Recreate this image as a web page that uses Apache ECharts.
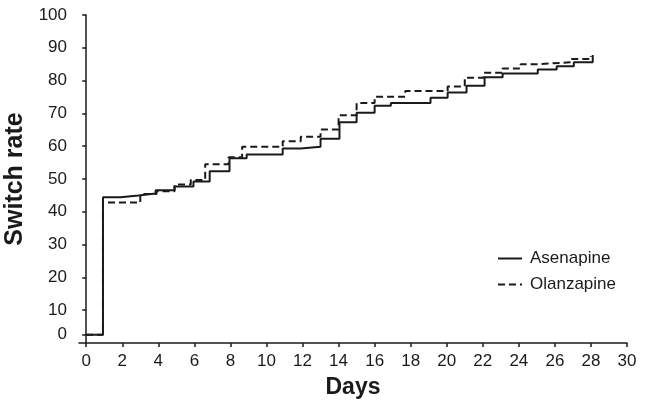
<!DOCTYPE html>
<html>
<head>
<meta charset="utf-8">
<script src="https://cdn.jsdelivr.net/npm/echarts@6/dist/echarts.min.js"></script>
<style>
  html, body { margin: 0; padding: 0; background: #fff; }
  #chart { width: 651px; height: 410px; }
</style>
</head>
<body>
<div id="chart"></div>
<script>
// Step data: [day, switch rate]
const asenapine = [
  [0, 0], [0.93, 44.4], [1.9, 45.0], [2.9, 45.6], [3.85, 46.6], [4.9, 47.7],
  [5.95, 49.2], [6.85, 52.4], [7.95, 56.3], [8.9, 57.5], [10.9, 59.3],
  [11.9, 59.8], [13.0, 62.3], [14.05, 67.3], [15.0, 70.2], [16.0, 72.3],
  [16.9, 73.2], [19.1, 74.8], [20.05, 76.4], [21.1, 78.4], [22.1, 81.0],
  [23.1, 82.2], [25.05, 83.4], [26.1, 84.4], [27.05, 85.6], [28.1, 87.8]
]
const olanzapine = [
  [0, 0], [0.93, 42.8], [3.0, 45.4], [3.9, 46.3], [4.9, 48.3], [5.8, 49.7],
  [6.6, 54.5], [7.9, 56.6], [8.65, 59.8], [10.9, 61.5], [11.9, 62.9],
  [13.0, 65.1], [14.0, 69.4], [15.0, 73.2], [16.0, 75.1], [17.7, 76.8],
  [20.05, 78.2], [21.0, 80.9], [22.05, 82.4], [23.1, 83.7], [24.1, 85.0],
  [25.05, 85.6], [26.9, 86.6], [28.0, 87.5]
]
const xTicks = [0, 2, 4, 6, 8, 10, 12, 14, 16, 18, 20, 22, 24, 26, 28, 30]
const yTicks = [0, 10, 20, 30, 40, 50, 60, 70, 80, 90, 100]

// the figure squeezes 0..10 on the y axis: "0" sits a bit above the x axis
const ZERO_AT = 2.5
const yPos = v => v < 10 ? ZERO_AT + v * (10 - ZERO_AT) / 10 : v
const toPlot = arr => arr.map(([d, v]) => [d, yPos(v)])

const font = '"Liberation Sans", Arial, sans-serif'
const ink = '#1a1a1a'

const chart = echarts.init(document.getElementById('chart'))
chart.setOption({
  animation: false,
  textStyle: { fontFamily: font },
  grid: { left: 79, right: 24, top: 15, bottom: 67, outerBoundsMode: 'none' },
  legend: {
    orient: 'vertical',
    left: 492,
    top: 245,
    itemWidth: 24,
    itemHeight: 10,
    itemGap: 9,
    data: ['Asenapine', 'Olanzapine'],
    itemStyle: { opacity: 0 },
    textStyle: { fontSize: 17, color: ink, fontFamily: font, padding: [0, 0, 0, 3] }
  },
  xAxis: {
    type: 'value',
    min: -0.4,
    max: 30,
    name: 'Days',
    nameLocation: 'middle',
    nameGap: 33,
    nameTextStyle: { fontSize: 23, fontWeight: 'bold', color: ink, fontFamily: font },
    axisLine: { show: true, lineStyle: { color: ink, width: 1.5 } },
    axisTick: { show: true, length: 4, lineStyle: { color: ink, width: 1.5 }, customValues: xTicks },
    axisLabel: { fontSize: 17, color: ink, margin: 10, customValues: xTicks },
    splitLine: { show: false }
  },
  yAxis: {
    type: 'value',
    min: 0,
    max: 100,
    name: 'Switch rate',
    nameLocation: 'middle',
    nameGap: 47,
    nameTextStyle: { fontSize: 25, fontWeight: 'bold', color: ink, fontFamily: font },
    axisLine: { show: true, lineStyle: { color: ink, width: 1.5 } },
    axisTick: { show: true, length: 4, lineStyle: { color: ink, width: 1.5 }, customValues: yTicks.map(yPos) },
    axisLabel: {
      fontSize: 17, color: ink, margin: 12,
      customValues: yTicks.map(yPos),
      formatter: v => v === ZERO_AT ? '0' : String(v)
    },
    splitLine: { show: false }
  },
  series: [
    {
      name: 'Olanzapine',
      type: 'line',
      step: 'end',
      symbol: 'none',
      data: toPlot(olanzapine),
      lineStyle: { color: ink, width: 2, type: [7, 4] },
      itemStyle: { color: ink }
    },
    {
      name: 'Asenapine',
      type: 'line',
      step: 'end',
      symbol: 'none',
      data: toPlot(asenapine),
      lineStyle: { color: ink, width: 2 },
      itemStyle: { color: ink }
    }
  ]
})
</script>
</body>
</html>
